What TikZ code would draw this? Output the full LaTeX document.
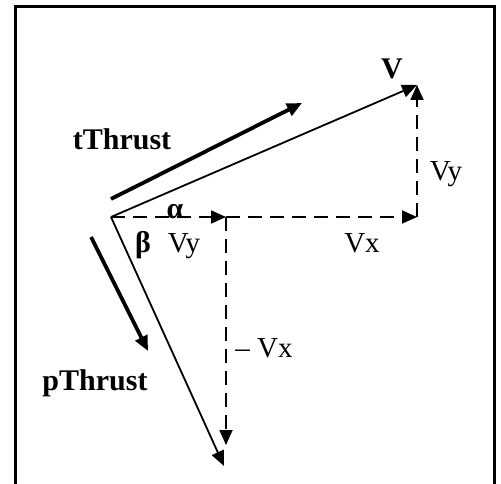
\documentclass[tikz,border=0pt]{standalone}
\usepackage{fontspec}
\setmainfont{Liberation Serif}
\usetikzlibrary{arrows.meta}

\begin{document}
\begin{tikzpicture}[
    x=1pt, y=-1pt,
    vec/.style={line width=1.8pt, -{Triangle[length=15pt, width=13pt]}},
    thrust/.style={line width=3.8pt, -{Triangle[length=15pt, width=13pt]}},
    comp/.style={line width=1.8pt, dash pattern=on 14pt off 8pt, -{Triangle[length=15pt, width=13pt]}},
    lbl/.style={inner sep=0pt, font=\fontsize{29}{32}\selectfont},
    blbl/.style={inner sep=0pt, font=\fontsize{30}{32}\selectfont\bfseries}
]
    \useasboundingbox (0,0) rectangle (501,484);
    \draw[line width=3pt] (15,7) rectangle (494,495);
    % key points
    \coordinate (orig) at (111,217);
    \coordinate (vtip) at (417,85);
    \coordinate (vxend) at (417,217);
    \coordinate (vymid) at (226,217);
    \coordinate (vxdown) at (226,445);
    \coordinate (ptip) at (224,466);
    \coordinate (tA) at (111,199);
    \coordinate (tB) at (302,103);
    \coordinate (pA) at (91,237);
    \coordinate (pB) at (148,351);
    % vectors
    \draw[vec] (orig) -- (vtip);
    \draw[vec] (orig) -- (ptip);
    \draw[comp] (orig) -- (vymid);
    \draw[comp] (vymid) -- (vxend);
    \draw[comp] (vxend) -- (vtip);
    \draw[comp] (vymid) -- (vxdown);
    \draw[thrust] (tA) -- (tB);
    \draw[thrust] (pA) -- (pB);
    % labels
    \node[blbl] (lV) at (392,69) {V};
    \node[blbl] (lT) at (122,139) {tThrust};
    \node[blbl] (lP) at (95,383) {pThrust};
    \node[lbl] (lVyR) at (446,174) {Vy};
    \node[blbl] (lA) at (175,212) {α};
    \node[blbl] (lB) at (143,245) {β};
    \node[lbl] (lVyM) at (184,246) {Vy};
    \node[lbl] (lVx) at (362,243) {Vx};
    \node[lbl] (lmVx) at (264,348) {– Vx};
\end{tikzpicture}
\end{document}
